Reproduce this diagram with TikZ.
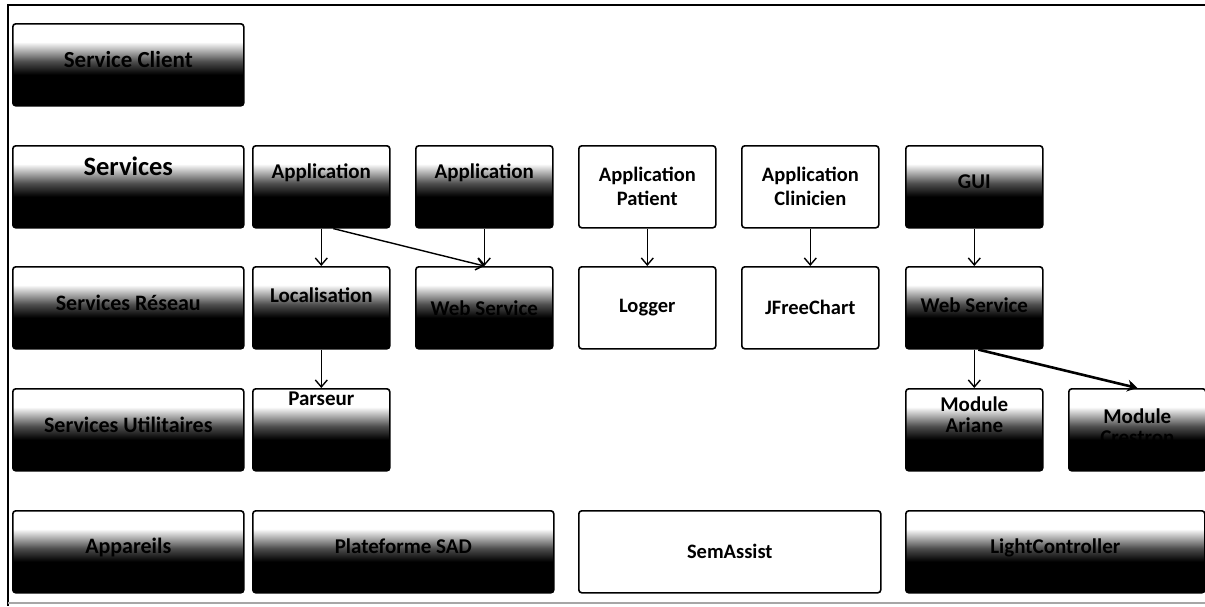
\documentclass[tikz,border=0pt]{standalone}
\usepackage{fontspec}
\setmainfont{Carlito}
\usetikzlibrary{arrows.meta,calc}
% white top fading into a black lower half
\pgfdeclareverticalshading{fade}{100bp}{color(0bp)=(black); color(44bp)=(black); color(52bp)=(black!70); color(58bp)=(black!35); color(64bp)=(white); color(100bp)=(white)}

\begin{document}
\begin{tikzpicture}[x=1pt,y=-1pt,
  box/.style={draw=black, line width=1.6pt, rounded corners=3pt, anchor=north west,
              minimum height=82pt, minimum width=137pt, inner sep=0pt},
  gbox/.style={box, shade, shading=fade},
  pbox/.style={box, fill=white, font=\bfseries\fontsize{20.5}{24}\selectfont, align=center},
  lbl/.style={font=\bfseries\fontsize{21}{22}\selectfont, align=center, inner sep=0pt, text=black},
  arr/.style={line width=1.4pt, -{Straight Barb[length=7pt,width=12pt,line width=1.4pt]}},
  thickarr/.style={line width=2.6pt, -{Stealth[length=10pt,width=12pt]}},
]
\useasboundingbox (0,0) rectangle (1205,606);

% frame
\draw[line width=2.6pt] (1205,5) -- (8,5) -- (8,606);
\draw[black!35, line width=1.2pt] (8,603) -- (1205,603);

% row 1
\node[gbox, minimum width=231pt] (sc) at (12,23) {};
\node[lbl, font=\bfseries\fontsize{23}{24}\selectfont] (sc-t) at ($(sc.north)+(0,37)$) {Service Client};

% row 2
\node[gbox, minimum width=231pt] (srv) at (12,145) {};
\node[lbl, font=\bfseries\fontsize{26.5}{28}\selectfont] (srv-t) at ($(srv.north)+(0,21)$) {Services};
\node[gbox] (a1) at (252,145) {};
\node[lbl] (a1-t) at ($(a1.north)+(0,28)$) {Application};
\node[gbox] (a2) at (415,145) {};
\node[lbl] (a2-t) at ($(a2.north)+(0,28)$) {Application};
\node[pbox] (ap) at (578,145) {Application\\Patient};
\node[pbox] (ac) at (741,145) {Application\\Clinicien};
\node[gbox] (gui) at (905,145) {};
\node[lbl] (gui-t) at ($(gui.north)+(0,37)$) {GUI};

% row 3
\node[gbox, minimum width=231pt] (sr) at (12,266) {};
\node[lbl, font=\bfseries\fontsize{22}{24}\selectfont] (sr-t) at ($(sr.north)+(0,37)$) {Services Réseau};
\node[gbox] (loc) at (252,266) {};
\node[lbl] (loc-t) at ($(loc.north)+(0,29)$) {Localisation};
\node[gbox] (ws1) at (415,266) {};
\node[lbl] (ws1-t) at ($(ws1.north)+(0,42)$) {Web Service};
\node[pbox] (log) at (578,266) {Logger};
\node[pbox] (jfc) at (741,266) {JFreeChart};
\node[gbox] (ws2) at (905,266) {};
\node[lbl] (ws2-t) at ($(ws2.north)+(0,39)$) {Web Service};

% row 4
\node[gbox, minimum width=231pt] (su) at (12,388) {};
\node[lbl, font=\bfseries\fontsize{22}{24}\selectfont] (su-t) at ($(su.north)+(0,37)$) {Services Utilitaires};
\node[gbox] (par) at (252,388) {};
\node[lbl] (par-t) at ($(par.north)+(0,11)$) {Parseur};
\node[gbox] (ma) at (905,388) {};
\node[lbl, font=\bfseries\fontsize{21}{21}\selectfont] (ma-t) at ($(ma.north)+(0,27)$) {Module\\Ariane};
\node[gbox] (mc) at (1068,388) {};
\node[lbl, font=\bfseries\fontsize{21}{21}\selectfont] (mc-t) at ($(mc.north)+(0,39)$) {Module\\Crestron};

% row 5
\node[gbox, minimum width=231pt] (app) at (12,510) {};
\node[lbl, font=\bfseries\fontsize{22}{24}\selectfont] (app-t) at ($(app.north)+(0,38)$) {Appareils};
\node[gbox, minimum width=301pt] (sad) at (252,510) {};
\node[lbl] (sad-t) at ($(sad.north)+(0,36)$) {Plateforme SAD};
\node[pbox, minimum width=302pt] (sem) at (578,510) {SemAssist};
\node[gbox, minimum width=299pt] (lc) at (905,510) {};
\node[lbl] (lc-t) at ($(lc.north)+(0,38)$) {LightController};

% dependencies
\draw[arr] (a1.south) -- (loc.north);
\draw[arr] ($(a1.south)+(12,0)$) -- (ws1.north);
\draw[arr] (a2.south) -- (ws1.north);
\draw[arr] (ap.south) -- (log.north);
\draw[arr] (ac.south) -- (jfc.north);
\draw[arr] (gui.south) -- (ws2.north);
\draw[arr] (loc.south) -- (par.north);
\draw[arr] (ws2.south) -- (ma.north);
\draw[thickarr] ($(ws2.south)+(4,0)$) -- (mc.north);
\end{tikzpicture}
\end{document}
